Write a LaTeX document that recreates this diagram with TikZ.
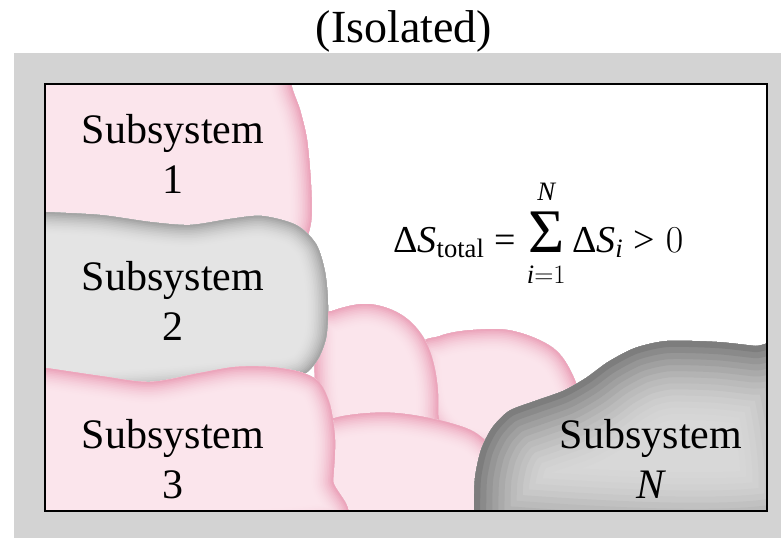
\documentclass[tikz,border=0pt]{standalone}
\usepackage{fix-cm}
\usepackage{fontspec}
\setmainfont{Liberation Serif}
\usetikzlibrary{positioning}

\definecolor{framegrey}{RGB}{211,211,211}
\definecolor{pinkfill}{RGB}{251,229,236}
\definecolor{pinkedge}{RGB}{236,166,188}
\definecolor{greyfill}{RGB}{228,228,228}
\definecolor{greyedge}{RGB}{165,165,165}
\definecolor{darkfill}{RGB}{216,216,216}
\definecolor{darkedge}{RGB}{125,125,125}

% soft blob: fill colour, edge colour, glow width, path
\newcommand{\glowblob}[4]{%
  \begin{scope}
    \clip #4;
    \fill[#1] #4;
    \foreach \k [evaluate=\k as \pc using int(100*(\k/14)^2)] in {1,...,14}
      \draw[line width={#3*(15-\k)/14}, color=#2!\pc!#1] #4;
  \end{scope}}

\begin{document}
\begin{tikzpicture}[x=1pt, y=-1pt,
    lbl/.style={font=\fontsize{42}{50}\selectfont, align=center, inner sep=0pt},
    eqn/.style={font=\fontsize{38}{46}\selectfont, inner sep=0pt},
    heading/.style={font=\fontsize{46}{52}\selectfont, inner sep=0pt}]
    \useasboundingbox (0,0) rectangle (781,538);
    \fill [framegrey] (14,53) rectangle (781,538);
    \fill [white] (45,84) rectangle (767,511);
    \begin{scope}
        \clip (45,84) rectangle (767,511);
        % subsystem 1
        \glowblob{pinkfill}{pinkedge}{46}{plot[smooth cycle, tension=0.5] coordinates {(20,50) (296,50) (291,82) (300,110) (307,140) (311,185) (311,222) (302,246) (278,258) (150,262) (20,262)}}
        % middle blobs
        \glowblob{pinkfill}{pinkedge}{46}{plot[smooth cycle, tension=0.6] coordinates {(430,420) (420,350) (440,336) (473,330) (513,331) (553,348) (573,376) (580,405) (575,440) (480,452)}}
        \glowblob{pinkfill}{pinkedge}{46}{plot[smooth cycle, tension=0.6] coordinates {(315,322) (332,311) (367,304) (400,314) (423,337) (435,370) (438,410) (430,442) (330,442)}}
        \glowblob{pinkfill}{pinkedge}{46}{plot[smooth cycle, tension=0.6] coordinates {(320,428) (335,418) (370,413) (405,414) (450,423) (480,436) (498,462) (505,525) (320,525)}}
        % subsystem 2
        \glowblob{greyfill}{greyedge}{46}{plot[smooth cycle, tension=0.5] coordinates {(20,210) (45,212) (100,215) (150,222) (190,225) (230,219) (262,216) (296,225) (316,244) (325,272) (328,305) (326,338) (316,362) (298,377) (250,382) (20,382)}}
        % subsystem 3
        \glowblob{pinkfill}{pinkedge}{46}{plot[smooth cycle, tension=0.5] coordinates {(20,366) (45,368) (100,376) (150,382) (200,373) (235,367) (270,367) (300,372) (319,382) (330,405) (335,440) (333,480) (328,525) (20,525)}}
        % subsystem N
        \glowblob{darkfill}{darkedge}{170}{plot[smooth cycle, tension=0.45] coordinates {(474,540) (474,512) (475,478) (481,450) (492,428) (509,411) (535,401) (563,391) (586,378) (608,362) (635,348) (667,341) (717,342) (755,346) (800,351) (800,540)}}
    \end{scope}
    \draw [line width=2pt] (45,84) rectangle (767,511);

    \node [heading, anchor=base] (title) at (404,42) {(Isolated)};
    \node [lbl] (sub1) at (173,154) {Subsystem\\1};
    \node [lbl] (sub2) at (173,301) {Subsystem\\2};
    \node [lbl] (sub3) at (173,459) {Subsystem\\3};
    \node [lbl] (subN) at (651,459) {Subsystem\\\textit{N}};
    \node [eqn, anchor=base west] (total) at (393,252)
        {$\textup{Δ}\mathit{S}_{\mathrm{total}}\mathrel{\textup{=}}\mathop{\hbox{\fontsize{62}{62}\selectfont Σ}}\limits_{\rule{0pt}{30pt}\mathit{i}=1}^{\mathit{N}\rule[-10pt]{0pt}{0pt}}\textup{Δ}\mathit{S}_{\mathit{i}}\mathrel{\textup{>}}0$};
\end{tikzpicture}
\end{document}
